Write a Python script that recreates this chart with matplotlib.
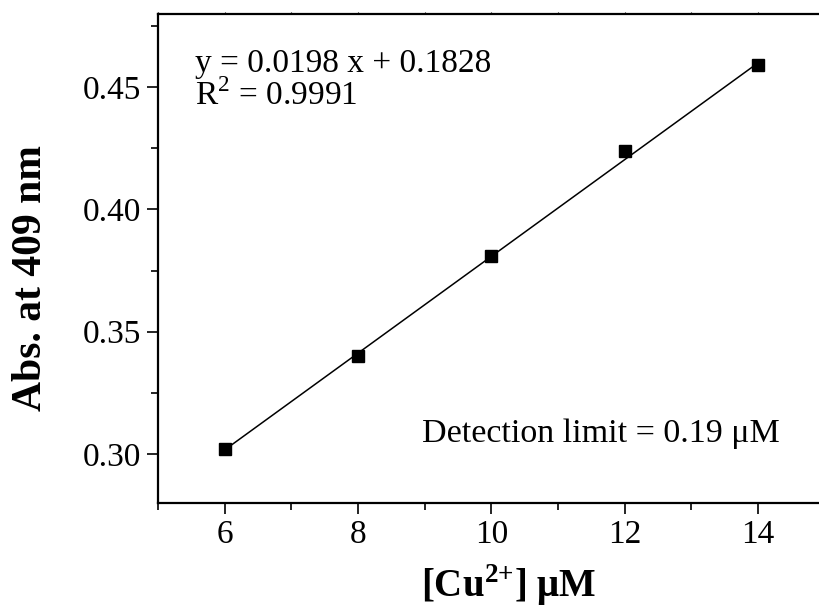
import numpy as np
import matplotlib
matplotlib.use('Agg')
import matplotlib.pyplot as plt
from matplotlib.ticker import MultipleLocator

# data
conc = [6, 8, 10, 12, 14]
absorb = [0.302, 0.340, 0.381, 0.424, 0.459]
slope = 0.0198
intercept = 0.1828

plt.rcParams['font.family'] = ['Liberation Serif', 'DejaVu Serif']
plt.rcParams['mathtext.fontset'] = 'custom'
plt.rcParams['mathtext.rm'] = 'Liberation Serif'
plt.rcParams['mathtext.bf'] = 'Liberation Serif:bold'

fig = plt.figure(figsize=(8.19, 6.12), dpi=100, facecolor='#FFFFFF')
# right spine sits just outside the picture, as in the reference crop
ax = fig.add_axes([158/819, (612-502.7)/612, (824.7-158)/819, (502.7-14)/612])

fit_x = np.array([conc[0], conc[-1]])
ax.plot(fit_x, slope*fit_x + intercept, color='black', lw=1.1)
ax.plot(conc, absorb, 's', color='black', ms=8)

ax.set_xlim(5, 15)
ax.set_ylim(0.28, 0.48)
ax.xaxis.set_major_locator(MultipleLocator(2))
ax.xaxis.set_minor_locator(MultipleLocator(1))
ax.yaxis.set_major_locator(MultipleLocator(0.05))
ax.yaxis.set_minor_locator(MultipleLocator(0.025))
ax.yaxis.set_major_formatter(plt.FormatStrFormatter('%.2f'))
ax.tick_params(which='major', direction='out', length=8, width=1.2, labelsize=24, pad=4)
ax.tick_params(which='minor', direction='out', length=5, width=1.2)
ax.tick_params(axis='x', which='both', top=True, labeltop=False)
# the top ticks are only tiny nubs in the reference
for t in ax.xaxis.get_ticklines(minor=False)[1::2] + ax.xaxis.get_ticklines(minor=True)[1::2]:
    t.set_markersize(1.5)
    t.set_markeredgewidth(0.8)
for s in ax.spines.values():
    s.set_linewidth(1.6)

ax.set_xlabel('[Cu$^{\\mathbf{2{+}}}$] \u03bcM', fontsize=28, fontweight='bold', va='top')
ax.xaxis.set_label_coords((509-158)/666.7, (502.7-562)/488.7)
ax.set_ylabel('Abs. at 409 nm', fontsize=30, fontweight='bold')
ax.yaxis.set_label_coords((50-158)/666.7, (502.7-278)/488.7)

ax.text(195, 612-72, 'y = 0.0198 x + 0.1828', transform=None, fontsize=24, va='baseline')
ax.text(195, 612-105, 'R$^{2}$ = 0.9991', transform=None, fontsize=24, va='baseline')
ax.text(422, 612-442, 'Detection limit = 0.19 \u03bcM', transform=None, fontsize=24.5, va='baseline')

fig.savefig('out.png', dpi=100)
